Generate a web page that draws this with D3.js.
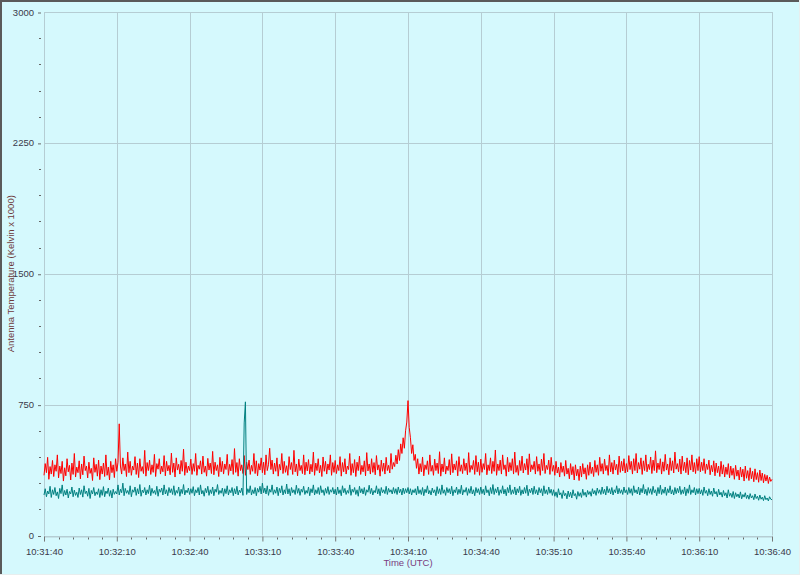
<!DOCTYPE html>
<html><head><meta charset="utf-8">
<script src="https://cdn.jsdelivr.net/npm/d3@7"></script>
<style>
html,body{margin:0;padding:0;background:#d5f9fd;}
svg{display:block;}
</style></head>
<body>
<svg id="chart" width="800" height="575"></svg>
<script>
// ---- data (samples evenly spaced, ~0.5 s, from 10:31:40 to 10:36:40 UTC) ----
const startTime = "10:31:40";
const endTime = "10:36:40";
const yTicks = [0, 750, 1500, 2250, 3000];
const yTitle = "Antenna Temperature (Kelvin x 1000)";
const xTitle = "Time (UTC)";
const redSeries = [
345,412,360,448,322,395,352,430,338,405,368,462,330,398,355,425,312,388,342,440,365,402,318,415,350,470,335,392,360,428,
325,410,348,455,372,398,330,420,356,385,315,445,362,408,340,432,320,398,352,415,338,462,345,392,318,425,360,405,332,440,
368,420,640,398,352,445,372,410,338,478,360,425,345,398,375,452,350,415,332,440,368,395,355,488,340,418,372,432,350,405,
362,465,338,412,380,440,352,398,365,458,342,425,370,402,348,472,362,415,335,445,375,408,352,430,368,495,345,420,360,398,
372,438,350,412,368,470,345,402,380,428,352,455,362,398,340,442,375,415,355,482,348,420,372,405,338,448,365,425,352,410,
378,465,345,408,370,435,350,498,362,418,340,440,372,405,355,458,345,420,378,432,350,402,368,470,355,428,342,412,375,445,
360,420,348,462,372,405,500,378,432,352,415,368,445,340,408,375,470,355,425,362,400,345,452,378,418,350,488,365,410,342,
438,372,402,355,462,348,420,370,435,352,408,365,478,345,415,372,440,358,402,338,450,368,425,352,410,375,462,345,418,362,
430,355,405,372,452,340,418,365,440,352,398,378,470,345,412,360,435,338,420,372,455,350,402,365,428,342,475,370,410,352,
440,362,418,348,458,375,405,340,432,368,415,352,448,372,402,358,470,380,418,395,460,410,492,430,525,470,560,500,600,650,
773,620,560,470,520,430,465,385,440,352,412,365,450,342,405,378,428,350,462,368,402,345,438,372,415,355,480,340,410,365,
445,352,398,372,435,348,468,360,410,375,428,342,452,368,405,355,440,372,415,348,475,362,402,378,430,350,458,365,420,345,
438,362,412,378,470,348,405,372,445,355,425,368,490,345,410,372,432,352,462,378,405,340,448,365,418,372,440,352,478,362,
402,345,430,372,455,358,412,375,440,348,468,365,405,378,425,352,452,368,410,345,438,372,470,355,402,378,432,350,448,368,
402,345,425,358,392,335,418,362,398,340,430,352,385,325,412,348,395,318,405,342,380,315,398,335,412,352,388,322,405,345,
420,355,392,338,430,362,405,345,448,368,412,352,438,372,402,345,462,365,418,352,432,375,408,348,455,362,425,370,440,358,
412,365,458,378,425,352,440,372,470,358,418,380,445,350,428,372,462,365,408,378,450,355,432,372,485,360,415,378,440,352,
422,368,465,375,410,348,445,372,428,358,478,380,412,365,438,352,455,372,420,360,445,348,430,375,462,365,418,355,440,372,
452,365,420,372,440,355,410,378,432,348,402,365,428,342,415,360,398,338,425,352,405,335,392,350,412,330,398,345,385,322,
402,340,375,318,392,335,380,312,398,328,372,315,388,325,368,308,382,320,360,305,375,315,358,302,350,312,345,298,335,310,
322];
const tealSeries = [
232,268,222,255,238,282,218,262,235,275,228,250,212,270,240,290,225,258,232,265,215,252,238,278,222,260,230,248,218,272,
235,262,220,285,240,255,225,270,212,258,238,275,228,250,235,268,218,262,230,280,222,255,240,272,225,258,215,265,236,252,
238,290,232,265,245,300,228,270,242,258,235,285,222,262,248,278,230,268,238,292,225,260,245,275,232,262,240,288,228,270,
242,258,235,282,225,265,248,272,232,290,238,262,228,275,245,268,235,285,230,258,242,278,225,265,240,292,232,260,245,272,
235,268,242,280,228,262,245,275,232,290,238,258,225,270,245,282,230,262,240,278,228,265,248,292,235,258,242,272,225,268,
240,285,232,262,245,275,228,268,238,282,232,260,245,272,230,645,766,235,268,245,285,232,262,240,275,228,270,248,282,238,
300,245,272,238,285,230,265,248,290,235,262,242,278,228,270,245,285,232,262,240,295,238,268,228,275,245,262,235,288,242,
270,230,265,248,282,235,258,242,278,228,268,245,290,232,262,240,275,235,285,245,262,230,270,242,280,235,262,248,275,238,
265,232,278,240,262,228,285,245,270,235,258,242,290,230,265,248,275,235,262,225,282,245,268,238,275,230,262,248,288,240,
270,232,258,245,285,238,268,228,275,245,262,240,282,235,270,248,262,238,275,242,268,235,278,245,265,232,272,240,268,245,
275,238,268,232,262,245,268,232,282,240,262,235,275,228,265,245,285,238,258,232,272,245,262,228,280,240,268,235,290,242,
262,230,275,245,268,238,282,228,262,245,278,235,265,240,288,232,262,248,275,230,268,242,282,238,262,228,275,245,268,235,
278,240,265,232,285,245,262,228,275,240,292,235,268,245,278,230,262,242,285,238,265,228,275,245,290,235,262,240,278,232,
268,245,282,230,262,238,275,242,288,228,265,245,272,235,282,240,262,232,275,245,268,228,285,240,262,235,278,242,265,230,
262,225,250,218,268,232,245,212,258,228,242,210,255,222,248,215,262,228,240,208,252,225,245,218,265,230,248,220,258,235,
252,225,268,238,258,230,272,242,262,235,278,240,265,232,282,245,268,238,275,232,262,245,285,238,270,242,262,235,278,245,
262,235,275,242,268,230,285,245,262,238,278,232,270,245,292,238,265,230,275,242,268,235,282,245,262,228,275,240,288,235,
265,242,278,230,268,245,285,238,262,232,275,240,270,245,282,235,262,240,278,228,268,242,290,235,262,245,275,232,268,240,
270,238,262,230,278,242,258,228,268,235,255,225,272,238,252,222,265,232,248,220,258,228,245,215,262,225,242,218,252,212,
245,222,238,215,250,210,235,220,245,212,232,208,240,215,228,205,238,212,225,202,232,208,220,200,228,205,215,198,222,208,
205];

// ---- chart ----
const svg = d3.select("#chart");
const W = 800, H = 575;
const m = {left: 44, top: 12, right: 28, bottom: 39.5};
const pw = W - m.left - m.right, ph = H - m.top - m.bottom;
const parse = s => { const [h, mi, se] = s.split(":").map(Number); return new Date(Date.UTC(2000,0,1,h,mi,se)); };
const t0 = parse(startTime), t1 = parse(endTime);
const span = t1 - t0;
const x = d3.scaleUtc().domain([t0, t1]).range([m.left, m.left + pw]);
const y = d3.scaleLinear().domain([0, 3000]).range([m.top + ph, m.top]);
const fmt = d3.utcFormat("%H:%M:%S");
const gridColor = "#b5cdd3";
const font = "Liberation Sans, Arial, sans-serif";

// window frame
svg.append("rect").attr("x",0).attr("y",0).attr("width",W).attr("height",H).attr("fill","#d5f9fd");
svg.append("line").attr("x1",0).attr("x2",W).attr("y1",1).attr("y2",1).attr("stroke","#5a5a5a").attr("stroke-width",2);
svg.append("line").attr("x1",1).attr("x2",1).attr("y1",0).attr("y2",H).attr("stroke","#5a5a5a").attr("stroke-width",2);
svg.append("line").attr("x1",W-0.5).attr("x2",W-0.5).attr("y1",0).attr("y2",H).attr("stroke","#e8eeee");
svg.append("line").attr("x1",0).attr("x2",W).attr("y1",H-0.5).attr("y2",H-0.5).attr("stroke","#e8eeee");

// ticks
const xMajor = d3.range(0, span / 1000 + 1, 30).map(s => new Date(+t0 + s * 1000));
const xMinor = d3.range(0, span / 1000 + 1, 6).filter(s => s % 30 !== 0).map(s => new Date(+t0 + s * 1000));
const yMinor = d3.range(0, 3001, 150).filter(v => v % 750 !== 0);

// grid
const g = svg.append("g");
g.selectAll(".vg").data(xMajor).join("line")
  .attr("x1", d => Math.round(x(d)) + 0.5).attr("x2", d => Math.round(x(d)) + 0.5)
  .attr("y1", m.top).attr("y2", m.top + ph).attr("stroke", gridColor);
g.selectAll(".hg").data(yTicks).join("line")
  .attr("x1", m.left).attr("x2", m.left + pw)
  .attr("y1", d => Math.round(y(d)) + 0.5).attr("y2", d => Math.round(y(d)) + 0.5).attr("stroke", gridColor);

// axes
const xAxis = d3.axisBottom(x).tickValues(xMajor).tickFormat(fmt).tickSize(5).tickPadding(7);
const ax = svg.append("g").attr("transform", `translate(0,${Math.round(m.top+ph)+0.5})`).call(xAxis);
ax.select(".domain").attr("stroke", gridColor);
ax.selectAll(".tick line").attr("stroke", "#777");
ax.selectAll("text").attr("font-family", font).attr("font-size", 9.5).attr("fill", "#3a3a4a");
svg.append("g").selectAll("line").data(xMinor).join("line")
  .attr("x1", d => Math.round(x(d)) + 0.5).attr("x2", d => Math.round(x(d)) + 0.5)
  .attr("y1", m.top + ph + 2).attr("y2", m.top + ph + 4).attr("stroke", "#666");

const yAxis = d3.axisLeft(y).tickValues(yTicks).tickFormat(d3.format("d")).tickSize(3).tickPadding(4);
const ay = svg.append("g").attr("transform", `translate(${m.left - 3},0)`).call(yAxis);
ay.select(".domain").remove();
ay.selectAll(".tick line").attr("stroke", "#666").attr("transform","translate(0,0.5)");
ay.selectAll("text").attr("font-family", font).attr("font-size", 9.5).attr("fill", "#3a3a4a");
svg.append("g").selectAll("line").data(yMinor).join("line")
  .attr("x1", m.left - 5).attr("x2", m.left - 3)
  .attr("y1", d => Math.round(y(d)) + 0.5).attr("y2", d => Math.round(y(d)) + 0.5).attr("stroke", "#666");

// series
const lineFor = arr => d3.line().x((d, i) => x(new Date(+t0 + i * span / (arr.length - 1)))).y(d => y(d));
svg.append("path").datum(redSeries).attr("d", lineFor(redSeries)).attr("fill","none").attr("stroke","#ff0000").attr("stroke-width",1);
svg.append("path").datum(tealSeries).attr("d", lineFor(tealSeries)).attr("fill","none").attr("stroke","#008080").attr("stroke-width",1);

// titles
svg.append("text").attr("x", m.left + pw/2).attr("y", 566).attr("text-anchor","middle")
  .attr("font-family", font).attr("font-size", 9.5).attr("fill", "#7a3c7e").text(xTitle);
svg.append("text").attr("transform", `translate(14,${m.top + ph/2}) rotate(-90)`).attr("text-anchor","middle")
  .attr("font-family", font).attr("font-size", 9.5).attr("fill", "#6e3a3a").text(yTitle);
</script>
</body></html>
